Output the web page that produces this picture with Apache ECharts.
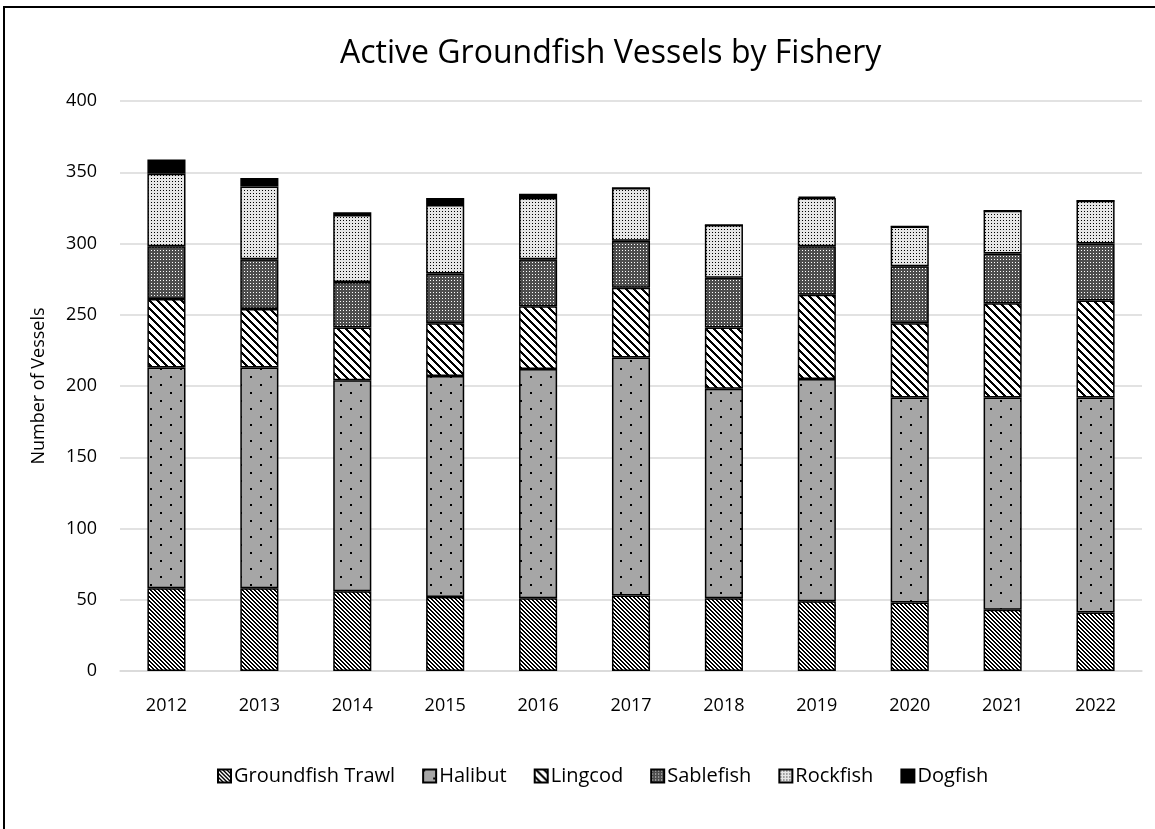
<!DOCTYPE html>
<html lang="en">
<head>
<meta charset="utf-8">
<title>Active Groundfish Vessels by Fishery</title>
<script src="https://cdn.jsdelivr.net/npm/echarts@6/dist/echarts.min.js"></script>
<style>
  html, body { margin: 0; padding: 0; background: #fff; overflow: hidden; }
  #frame { position: absolute; left: 3px; top: 6px; width: 1200px; height: 900px; border: 2px solid #000; }
  #chart { position: absolute; left: 0; top: 0; width: 1155px; height: 829px; }
</style>
</head>
<body>
<div id="frame"></div>
<div id="chart"></div>

<script>
// data
var years = ['2012', '2013', '2014', '2015', '2016', '2017', '2018', '2019', '2020', '2021', '2022'];
var trawl     = [58, 58, 56, 52, 51, 53, 51, 49, 48, 43, 41];
var halibut   = [155, 155, 148, 155, 161, 167, 147, 156, 144, 149, 151];
var lingcod   = [48, 41, 37, 37, 44, 49, 43, 59, 52, 66, 68];
var sablefish = [37, 35, 32, 35, 33, 33, 35, 34, 40, 35, 40];
var rockfish  = [51, 51, 47, 48, 43, 37, 37, 34, 28, 30, 30];
var dogfish   = [10, 6, 2, 5, 3, 0, 0, 1, 0, 0, 0];

// little pattern tiles, like the excel fills
function tile(w, h, bg, draw) {
  var c = document.createElement('canvas');
  c.width = w; c.height = h;
  var ctx = c.getContext('2d');
  ctx.fillStyle = bg;
  ctx.fillRect(0, 0, w, h);
  draw(ctx);
  return { image: c, repeat: 'repeat' };
}

var fillTrawl = tile(4, 4, '#fff', function (ctx) {
  ctx.fillStyle = '#000';
  for (var y = 0; y < 4; y++)
    for (var x = 0; x < 4; x++)
      if (((x - y) % 4 + 4) % 4 < 2) ctx.fillRect(x, y, 1, 1);
});
var fillHalibut = tile(20, 16, '#a6a6a6', function (ctx) {
  ctx.fillStyle = '#000';
  ctx.fillRect(0, 0, 2, 2);
  ctx.fillRect(10, 8, 2, 2);
});
var fillLingcod = tile(8, 8, '#fff', function (ctx) {
  ctx.fillStyle = '#000';
  for (var y = 0; y < 8; y++)
    for (var x = 0; x < 8; x++)
      if (((x - y) % 8 + 8) % 8 < 3) ctx.fillRect(x, y, 1, 1);
});
var fillSable = tile(3, 3, '#4d4d4d', function (ctx) {
  ctx.fillStyle = '#fff';
  ctx.fillRect(1, 1, 1, 1);
});
var fillRock = tile(3, 3, '#e6e6e6', function (ctx) {
  ctx.fillStyle = '#000';
  ctx.fillRect(1, 1, 1, 1);
});

function bar(name, data, fill) {
  return {
    name: name,
    type: 'bar',
    stack: 'all',
    barWidth: '41%',
    data: data,
    itemStyle: { color: fill, borderColor: '#000', borderWidth: 1.5 }
  };
}

var chart = echarts.init(document.getElementById('chart'));
var font = 'Open Sans';

chart.setOption({
  animation: false,
  backgroundColor: 'transparent',
  title: {
    text: 'Active Groundfish Vessels by Fishery',
    left: 335,
    top: 33,
    textStyle: { fontFamily: font, fontSize: 32, fontWeight: 'normal', color: '#000' }
  },
  grid: { left: 120, right: 13, top: 101, bottom: 158 },
  legend: {
    bottom: 38,
    left: 212,
    icon: 'rect',
    itemWidth: 13,
    itemHeight: 13,
    itemGap: 27,
    textStyle: { fontFamily: font, fontSize: 20, color: '#000', padding: [0, 0, 0, -2] }
  },
  xAxis: {
    type: 'category',
    data: years,
    axisTick: { show: false },
    axisLine: { lineStyle: { color: '#d9d9d9', width: 1.5 } },
    axisLabel: { fontFamily: font, fontSize: 18, color: '#000', margin: 26 }
  },
  yAxis: {
    type: 'value',
    min: 0,
    max: 400,
    interval: 50,
    name: 'Number of Vessels',
    nameLocation: 'middle',
    nameGap: 72,
    nameTextStyle: { fontFamily: font, fontSize: 18, color: '#000' },
    axisLabel: { fontFamily: font, fontSize: 18, color: '#000', margin: 23 },
    splitLine: { lineStyle: { color: '#d9d9d9', width: 1.5 } }
  },
  series: [
    bar('Groundfish Trawl', trawl, fillTrawl),
    bar('Halibut', halibut, fillHalibut),
    bar('Lingcod', lingcod, fillLingcod),
    bar('Sablefish', sablefish, fillSable),
    bar('Rockfish', rockfish, fillRock),
    bar('Dogfish', dogfish, '#000')
  ]
});
</script>
</body>
</html>
